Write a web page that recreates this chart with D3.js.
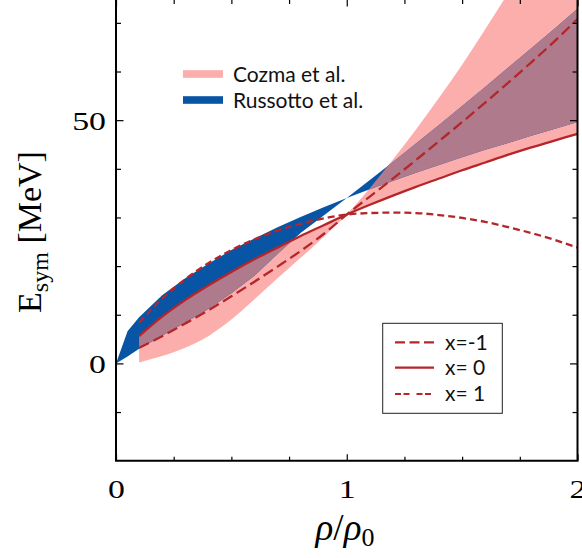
<!DOCTYPE html>
<html>
<head>
<meta charset="utf-8">
<script src="https://cdn.jsdelivr.net/npm/d3@7"></script>
<style>
  body { margin: 0; background: #fff; }
  svg { display: block; }
  .tick line { stroke: #000; stroke-width: 1.2; }
</style>
</head>
<body>
<svg id="chart" width="582" height="558"></svg>
<script>
const svg = d3.select("#chart");
const width = +svg.attr("width");
const height = +svg.attr("height");

const rho = [0.1, 0.2, 0.3, 0.4, 0.5, 0.6, 0.7, 0.8, 0.9, 1.0,
             1.1, 1.2, 1.3, 1.4, 1.5, 1.6, 1.7, 1.8, 1.9, 2.0];
// MDI curves, E_sym in MeV
const xMinus1 = [3.2, 5.6, 8.2, 10.9, 13.8, 16.8, 19.9, 23.1, 26.6, 30.6,
                 34.3, 38.0, 41.8, 45.7, 49.6, 53.6, 57.7, 61.9, 66.2, 70.8];
const xZero   = [5.6, 9.6, 13.0, 16.0, 18.8, 21.4, 23.8, 26.2, 28.4, 30.6,
                 32.6, 34.5, 36.3, 38.0, 39.7, 41.3, 42.9, 44.4, 45.8, 47.2];
const xPlus1  = [8.4, 13.3, 17.3, 20.6, 23.3, 25.5, 27.3, 28.7, 29.8, 30.6,
                 30.9, 31.0, 30.9, 30.5, 29.9, 29.1, 28.0, 26.8, 25.4, 23.8];

// Cozma et al. band (edges cross at rho0)
const cozmaA = [0.2, 1.5, 3.2, 5.6, 9.0, 13.2, 17.5, 21.7, 26.0, 30.6,
                36.0, 41.9, 48.1, 54.6, 61.4, 68.7, 76.2, 84.1, 92.3, 100.8];
const cozmaB = [5.6, 9.6, 13.0, 16.0, 18.8, 21.4, 23.8, 26.2, 28.4, 30.6,
                32.6, 34.5, 36.3, 38.0, 39.7, 41.3, 42.9, 44.4, 45.8, 47.2];

// Russotto et al. band
const rhoR = [0, 0.05, 0.1, 0.2, 0.3, 0.4, 0.5, 0.6, 0.7, 0.8, 0.9, 1.0,
              1.1, 1.2, 1.3, 1.4, 1.5, 1.6, 1.7, 1.8, 1.9, 2.0];
const russSoft  = [0, 6.6, 9.5, 14.0, 17.5, 20.5, 23.3, 25.7, 28.0, 30.1, 32.1, 34.0,
                   35.8, 37.5, 39.2, 40.8, 42.4, 43.9, 45.3, 46.8, 48.2, 49.6];
const russStiff = [0, 1.4, 3.0, 5.7, 8.4, 11.2, 14.4, 18.0, 22.5, 26.8, 30.4, 34.0,
                   37.7, 41.4, 45.2, 49.0, 52.9, 56.8, 60.8, 64.8, 68.8, 72.9];

const xMajor = [0, 1, 2];
const xMinor = [0.25, 0.5, 0.75, 1.25, 1.5, 1.75];
const yMajor = [0, 50];
const yMinor = [-10, 10, 20, 30, 40, 60, 70];

const colPink = "#fcaeac";
const colBlue = "#0855a6";
const colMix = "#b07a8d";
const colLine = "#b5262a";

const pLeft = 116, pRight = 577.5, pTop = 0, pBottom = 460.7;
const stretch = 1.3; // tick digits look wide in the reference

const x = d3.scaleLinear().domain([0, 2]).range([pLeft, pRight]);
const y = d3.scaleLinear().domain([-20, 74.7]).range([pBottom, pTop]);

const defs = svg.append("defs");
defs.append("clipPath").attr("id", "plotclip")
  .append("rect").attr("x", pLeft).attr("y", pTop)
  .attr("width", pRight - pLeft).attr("height", pBottom - pTop);

const cozma = rho.map((r, i) => ({ r: r, a: cozmaA[i], b: cozmaB[i] }));
const russ = rhoR.map((r, i) => ({ r: r, a: russStiff[i], b: russSoft[i] }));

const band = d3.area()
  .x(d => x(d.r))
  .y0(d => y(d.a))
  .y1(d => y(d.b))
  .curve(d3.curveMonotoneX);
const bandLin = d3.area()
  .x(d => x(d.r))
  .y0(d => y(d.a))
  .y1(d => y(d.b));

defs.append("clipPath").attr("id", "russclip")
  .append("path").attr("d", bandLin(russ));

const plot = svg.append("g").attr("clip-path", "url(#plotclip)");

plot.append("path").attr("d", band(cozma)).attr("fill", colPink);
plot.append("path").attr("d", bandLin(russ)).attr("fill", colBlue);
// overlap of the two bands
plot.append("g").attr("clip-path", "url(#russclip)")
  .append("path").attr("d", band(cozma)).attr("fill", colMix);

const line = d3.line()
  .x(d => x(d[0]))
  .y(d => y(d[1]))
  .curve(d3.curveMonotoneX);

const curves = [
  { vals: xMinus1, dash: "11,5" },
  { vals: xZero, dash: null },
  { vals: xPlus1, dash: "7,4" }
];

plot.selectAll(".curve")
  .data(curves)
  .enter().append("path")
  .attr("class", "curve")
  .attr("d", c => line(rho.map((r, i) => [r, c.vals[i]])))
  .attr("fill", "none")
  .attr("stroke", colLine)
  .attr("stroke-width", 2.3)
  .attr("stroke-dasharray", c => c.dash);

// axes
function styleAxis(g) {
  g.select(".domain").remove();
  g.selectAll("text")
    .attr("font-family", "Liberation Serif, serif")
    .attr("font-size", 26)
    .attr("fill", "#000");
}

svg.append("g").attr("transform", `translate(0,${pBottom})`)
  .call(d3.axisBottom(x).tickValues(xMinor).tickSize(-4).tickFormat(""))
  .call(styleAxis);
svg.append("g").attr("transform", `translate(0,${pBottom})`)
  .call(d3.axisBottom(x).tickValues(xMajor).tickSize(-6.5).tickFormat(d3.format("d")))
  .call(styleAxis)
  .call(g => g.selectAll("text")
    .attr("y", 37.5).attr("dy", 0)
    .attr("transform", `scale(${stretch},1)`));

svg.append("g").attr("transform", `translate(0,${pTop})`)
  .call(d3.axisTop(x).tickValues(xMinor).tickSize(-4).tickFormat(""))
  .call(styleAxis);
svg.append("g").attr("transform", `translate(0,${pTop})`)
  .call(d3.axisTop(x).tickValues(xMajor).tickSize(-6.5).tickFormat(""))
  .call(styleAxis);

svg.append("g").attr("transform", `translate(${pLeft},0)`)
  .call(d3.axisLeft(y).tickValues(yMinor).tickSize(-5).tickFormat(""))
  .call(styleAxis);
svg.append("g").attr("transform", `translate(${pLeft},0)`)
  .call(d3.axisLeft(y).tickValues(yMajor).tickSize(-7.5).tickFormat(d3.format("d")))
  .call(styleAxis)
  .call(g => g.selectAll("text")
    .attr("x", -10 / stretch).attr("dy", 0).attr("y", 9.5)
    .attr("text-anchor", "end")
    .attr("transform", `scale(${stretch},1)`));

svg.append("g").attr("transform", `translate(${pRight},0)`)
  .call(d3.axisRight(y).tickValues(yMinor).tickSize(-5).tickFormat(""))
  .call(styleAxis);
svg.append("g").attr("transform", `translate(${pRight},0)`)
  .call(d3.axisRight(y).tickValues(yMajor).tickSize(-7.5).tickFormat(""))
  .call(styleAxis);

// frame
svg.append("path")
  .attr("d", `M${pLeft},${pTop}V${pBottom}H${pRight}V${pTop}`)
  .attr("fill", "none")
  .attr("stroke", "#000")
  .attr("stroke-width", 2);

// axis titles
const xt = svg.append("text")
  .attr("x", 345).attr("y", 540)
  .attr("text-anchor", "middle")
  .attr("font-family", "Liberation Serif, serif")
  .attr("font-size", 37);
xt.append("tspan").attr("font-style", "italic").text("ρ");
xt.append("tspan").text("/");
xt.append("tspan").attr("font-style", "italic").text("ρ");
xt.append("tspan").attr("font-size", 26).attr("dy", 6).text("0");

const yt = svg.append("text")
  .attr("transform", "translate(41,232) rotate(-90)")
  .attr("text-anchor", "middle")
  .attr("font-family", "Liberation Serif, serif")
  .attr("font-size", 34);
yt.append("tspan").text("E");
yt.append("tspan").attr("font-size", 24).attr("dy", 7).text("sym");
yt.append("tspan").attr("dy", -7).text(" [MeV]");

// band legend
const bandLegend = [
  { label: "Cozma et al.", color: colPink, y: 74 },
  { label: "Russotto et al.", color: colBlue, y: 100 }
];
const bl = svg.selectAll(".blegend")
  .data(bandLegend)
  .enter().append("g")
  .attr("class", "blegend");
bl.append("rect")
  .attr("x", 183).attr("y", d => d.y - 3.8)
  .attr("width", 40).attr("height", 7.6)
  .attr("fill", d => d.color);
bl.append("text")
  .attr("x", 233).attr("y", d => d.y + 8)
  .attr("font-family", "Lato, sans-serif")
  .attr("font-size", 21)
  .attr("fill", "#111")
  .text(d => d.label);

// line legend
svg.append("rect")
  .attr("x", 382.7).attr("y", 323.3)
  .attr("width", 119.6).attr("height", 90)
  .attr("fill", "#fff")
  .attr("stroke", "#222")
  .attr("stroke-width", 1);

const lineLegend = [
  { label: "x=-1", dash: "10,4.5", y: 342.3 },
  { label: "x= 0", dash: null, y: 367.7 },
  { label: "x= 1", dash: "6,2.5,6,7", y: 394 }
];
const ll = svg.selectAll(".llegend")
  .data(lineLegend)
  .enter().append("g")
  .attr("class", "llegend");
ll.append("line")
  .attr("x1", 395).attr("x2", 434)
  .attr("y1", d => d.y).attr("y2", d => d.y)
  .attr("stroke", colLine)
  .attr("stroke-width", 2.2)
  .attr("stroke-dasharray", d => d.dash);
ll.append("text")
  .attr("x", 445).attr("y", d => d.y + 7.3)
  .attr("font-family", "Lato, sans-serif")
  .attr("font-size", 21)
  .attr("fill", "#111")
  .attr("xml:space", "preserve")
  .style("white-space", "pre")
  .text(d => d.label);
</script>
</body>
</html>
